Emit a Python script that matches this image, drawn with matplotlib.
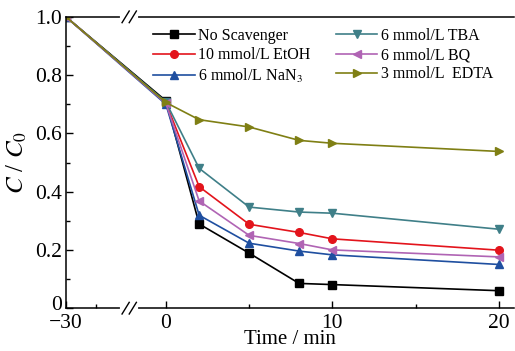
import numpy as np
import matplotlib
matplotlib.use("Agg")
import matplotlib.pyplot as plt
from matplotlib.transforms import ScaledTranslation

plt.rcParams["font.family"] = ["Liberation Serif", "DejaVu Serif"]
plt.rcParams["mathtext.fontset"] = "stix"

# data
time = [-30, 0, 2, 5, 8, 10, 20]
labels = ["No Scavenger", "10 mmol/L EtOH", "6 mmol/L NaN$_3$",
          "6 mmol/L TBA", "6 mmol/L BQ", "3 mmol/L  EDTA"]
no_scav = [1.0, 0.712, 0.289, 0.189, 0.085, 0.081, 0.060]
etoh = [1.0, 0.705, 0.417, 0.288, 0.260, 0.238, 0.199]
nan3 = [1.0, 0.700, 0.319, 0.223, 0.196, 0.183, 0.150]
tba = [1.0, 0.708, 0.480, 0.347, 0.330, 0.326, 0.271]
bq = [1.0, 0.703, 0.368, 0.250, 0.222, 0.200, 0.176]
edta = [1.0, 0.706, 0.647, 0.622, 0.576, 0.566, 0.538]

series = [no_scav, etoh, nan3, tba, bq, edta]
colors = ["#000000", "#e3141c", "#1f4fa0", "#3f7f88", "#b064b4", "#7f7f14"]
markers = ["s", "o", "^", "v", "<", ">"]

# broken axis: compress the -30..0 stretch
def pos(t):
    t = np.asarray(t, dtype=float)
    return np.where(t < 0, t * 0.2, t)

fig = plt.figure(figsize=(5.15, 3.51), dpi=100)
ax = fig.add_axes([0.128, 0.122, 0.870, 0.830])

xs = pos(time)
for y, c, m, lab in zip(series, colors, markers, labels):
    ax.plot(xs, y, color=c, marker=m, ms=5.5, lw=1.2, label=lab)

ax.set_xlim(-6, 20.9)
ax.set_ylim(0, 1.0)
ax.set_xticks(pos([-30, 0, 10, 20]))
ax.set_xticklabels(["\u221230", "0", "10", "20"])
ax.set_xticks([-4.2, 5, 15], minor=True)
ax.set_yticks([0, 0.2, 0.4, 0.6, 0.8, 1.0])
ax.set_yticklabels(["0", "0.2", "0.4", "0.6", "0.8", "1.0"])
ax.set_yticks(np.arange(0.1, 1.0, 0.2), minor=True)
ax.tick_params(which="both", direction="in", labelsize=15.5, width=1)
ax.tick_params(which="major", length=5)
ax.tick_params(which="minor", length=3)
ax.tick_params(axis="x", pad=4)
ax.tick_params(axis="y", pad=3)
ax.spines["right"].set_visible(False)
for s in ax.spines.values():
    s.set_linewidth(1.1)

# lift the "0" y label so it clears "-30"
lab0 = ax.get_yticklabels()[0]
lab0.set_transform(lab0.get_transform() + ScaledTranslation(0, 4 / 72, fig.dpi_scale_trans))

ax.set_xlabel("Time / min", fontsize=15, labelpad=-2)
ax.set_ylabel("$C$ / $C_0$", fontsize=18, labelpad=4)

# break marks on top and bottom spines
bx = (-2.2 + 6) / 26.9
for yb in (0, 1):
    ax.plot([bx - 0.015, bx + 0.015], [yb, yb], color="white", lw=3,
            transform=ax.transAxes, clip_on=False, zorder=5)
    for dx in (-0.008, 0.008):
        ax.plot([bx + dx - 0.008, bx + dx + 0.008], [yb - 0.02, yb + 0.02],
                color="black", lw=1, transform=ax.transAxes, clip_on=False, zorder=6)

ax.legend(loc="upper left", bbox_to_anchor=(0.17, 1.0), ncol=2, frameon=False,
          fontsize=11.5, handlelength=2.6, columnspacing=1.6, labelspacing=0.2,
          handletextpad=0.2, borderaxespad=0.3)

fig.savefig("out.png", dpi=100)
